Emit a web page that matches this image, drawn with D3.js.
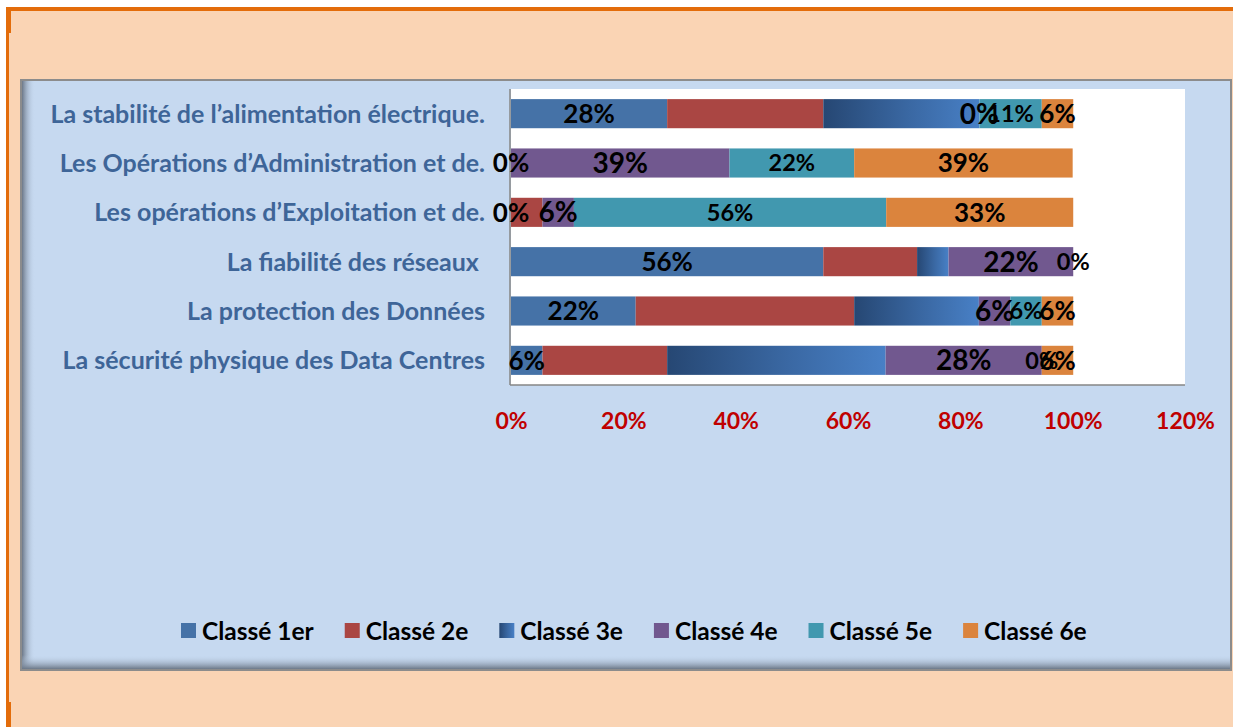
<!DOCTYPE html>
<html lang="fr">
<head>
  <meta charset="UTF-8">
  <title>Classement des critères</title>
  <script src="https://d3js.org/d3.v7.min.js"></script>
  <style>
    body { margin: 0; padding: 0; background: #ffffff; }
    svg { display: block; font-family: Lato, 'Open Sans', sans-serif; }
    text { font-weight: bold; white-space: pre; }
  </style>
</head>
<body>
  <svg id="chart" width="1233" height="727"></svg>

  <script>
    // categories, top to bottom as they appear
    const categories = [
      "La stabilité de l’alimentation électrique.",
      "Les Opérations d’Administration et de.",
      "Les opérations d’Exploitation et de.",
      "La fiabilité des réseaux ",
      "La protection des Données",
      "La sécurité physique des Data Centres"
    ];
    const seriesNames = ["Classé 1er", "Classé 2e", "Classé 3e", "Classé 4e", "Classé 5e", "Classé 6e"];

    const classe1 = [0.278, 0,     0,     0.556, 0.222, 0.056];
    const classe2 = [0.278, 0,     0.056, 0.167, 0.389, 0.222];
    const classe3 = [0.278, 0,     0,     0.056, 0.222, 0.389];
    const classe4 = [0,     0.389, 0.056, 0.222, 0.056, 0.278];
    const classe5 = [0.111, 0.222, 0.556, 0,     0.056, 0];
    const classe6 = [0.056, 0.389, 0.333, 0,     0.056, 0.056];

    const tickValues = [0, 0.2, 0.4, 0.6, 0.8, 1.0, 1.2];

    const values = [classe1, classe2, classe3, classe4, classe5, classe6];
    const colors = ["#4572a7", "#aa4643", "url(#grad3)", "#71588f", "#4198af", "#db843d"];
    // Excel only kept data labels on some series
    const labelSize = [26, 0, 0, 28, 23.5, 26];

    const svg = d3.select("#chart");
    const defs = svg.append("defs");

    const g3 = defs.append("linearGradient").attr("id", "grad3")
      .attr("x1", "0").attr("x2", "1").attr("y1", "0").attr("y2", "0");
    g3.append("stop").attr("offset", "0").attr("stop-color", "#264773");
    g3.append("stop").attr("offset", "0.55").attr("stop-color", "#3a68a3");
    g3.append("stop").attr("offset", "1").attr("stop-color", "#4880c6");

    const shL = defs.append("linearGradient").attr("id", "shadeLeft")
      .attr("x1", "0").attr("x2", "1").attr("y1", "0").attr("y2", "0");
    shL.append("stop").attr("offset", "0").attr("stop-color", "#6c7888").attr("stop-opacity", 1);
    shL.append("stop").attr("offset", "1").attr("stop-color", "#c6d9f0").attr("stop-opacity", 0);

    const shB = defs.append("linearGradient").attr("id", "shadeBottom")
      .attr("x1", "0").attr("x2", "0").attr("y1", "1").attr("y2", "0");
    shB.append("stop").attr("offset", "0").attr("stop-color", "#6c7888").attr("stop-opacity", 1);
    shB.append("stop").attr("offset", "1").attr("stop-color", "#c6d9f0").attr("stop-opacity", 0);

    // outer frame
    svg.append("rect").attr("x", 9).attr("y", 11).attr("width", 1224).attr("height", 716).attr("fill", "#fad4b4");
    svg.append("rect").attr("x", 6).attr("y", 7).attr("width", 1227).attr("height", 4).attr("fill", "#e36c0a");
    svg.append("rect").attr("x", 6).attr("y", 7).attr("width", 3).attr("height", 720).attr("fill", "#e36c0a");
    svg.append("rect").attr("x", 6).attr("y", 7).attr("width", 5).attr("height", 26).attr("fill", "#e36c0a");
    svg.append("rect").attr("x", 6).attr("y", 702).attr("width", 5).attr("height", 25).attr("fill", "#e36c0a");

    // chart panel
    const panel = { x: 21, y: 80, w: 1210, h: 590 };
    svg.append("rect").attr("x", panel.x).attr("y", panel.y).attr("width", panel.w).attr("height", panel.h)
      .attr("fill", "#c6d9f0").attr("stroke", "#8c8c8c").attr("stroke-width", 2);
    svg.append("rect").attr("x", panel.x + 1).attr("y", panel.y + 1).attr("width", 13).attr("height", panel.h - 2)
      .attr("fill", "url(#shadeLeft)");
    svg.append("rect").attr("x", panel.x + 1).attr("y", panel.y + panel.h - 15).attr("width", panel.w - 2).attr("height", 14)
      .attr("fill", "url(#shadeBottom)");

    // plot area
    const plot = { left: 511, right: 1185, top: 89, bottom: 385 };
    svg.append("rect").attr("x", plot.left).attr("y", plot.top)
      .attr("width", plot.right - plot.left).attr("height", plot.bottom - plot.top).attr("fill", "#ffffff");

    const x = d3.scaleLinear().domain([0, 1.2]).range([plot.left, plot.right]);
    const y = d3.scaleBand().domain(categories).range([plot.top, plot.bottom]).paddingInner(0.41).paddingOuter(0.205);

    // stacked data
    const rows = categories.map((c, i) => {
      const r = { cat: c };
      seriesNames.forEach((s, j) => { r[s] = values[j][i]; });
      return r;
    });
    const stacked = d3.stack().keys(seriesNames)(rows);

    const layers = svg.selectAll("g.layer")
      .data(stacked)
      .enter()
      .append("g")
      .attr("class", "layer")
      .attr("fill", (d, i) => colors[i]);

    layers.selectAll("rect")
      .data(d => d)
      .enter()
      .append("rect")
      .attr("x", d => x(d[0]))
      .attr("y", d => y(d.data.cat))
      .attr("width", d => x(d[1]) - x(d[0]))
      .attr("height", y.bandwidth());

    // axis lines
    svg.append("line").attr("x1", plot.left - 1).attr("x2", plot.left - 1).attr("y1", plot.top).attr("y2", plot.bottom)
      .attr("stroke", "#868686").attr("stroke-width", 1.5);
    svg.append("line").attr("x1", plot.left - 1).attr("x2", plot.right).attr("y1", plot.bottom).attr("y2", plot.bottom)
      .attr("stroke", "#868686").attr("stroke-width", 1.5);

    // category labels
    svg.selectAll("text.cat")
      .data(categories)
      .enter()
      .append("text")
      .attr("class", "cat")
      .attr("x", 485)
      .attr("y", d => y(d) + y.bandwidth() / 2)
      .attr("dy", "0.36em")
      .attr("text-anchor", "end")
      .style("fill", "#3e6598")
      .style("font-size", "25px")
      .text(d => d);

    // x axis tick labels
    const xAxis = d3.axisBottom(x).tickValues(tickValues).tickFormat(d3.format(".0%")).tickSize(0).tickPadding(0);
    const ax = svg.append("g").attr("transform", `translate(0, ${plot.bottom + 36})`).call(xAxis);
    ax.select(".domain").remove();
    ax.selectAll("text")
      .attr("y", 0)
      .attr("dy", "0.36em")
      .style("fill", "#c00000")
      .style("font-size", "23px")
      .style("font-family", "Lato, 'Open Sans', sans-serif")
      .style("font-weight", "bold");

    // data labels
    stacked.forEach((layer, j) => {
      if (!labelSize[j]) return;
      const shown = j === seriesNames.length - 1 ? layer.filter(d => d[1] - d[0] > 0) : layer;
      svg.selectAll("text.lbl" + j)
        .data(shown)
        .enter()
        .append("text")
        .attr("class", "lbl" + j)
        .attr("x", d => x((d[0] + d[1]) / 2))
        .attr("y", d => y(d.data.cat) + y.bandwidth() / 2)
        .attr("dy", "0.36em")
        .attr("text-anchor", "middle")
        .style("fill", "#000000")
        .style("font-size", labelSize[j] + "px")
        .text(d => Math.round((d[1] - d[0]) * 100) + "%");
    });

    // legend, items laid out one after the other like Excel does
    const legend = svg.append("g").attr("transform", "translate(181, 623)");
    let lx = 0;
    seriesNames.forEach((name, i) => {
      const item = legend.append("g").attr("transform", `translate(${lx}, 0)`);
      item.append("rect")
        .attr("width", 15)
        .attr("height", 15)
        .attr("fill", colors[i]);
      const t = item.append("text")
        .attr("x", 21)
        .attr("y", 8)
        .attr("dy", "0.36em")
        .style("font-size", "24.5px")
        .style("fill", "#000000")
        .text(name);
      lx += 21 + t.node().getComputedTextLength() + 31;
    });
  </script>
</body>
</html>
